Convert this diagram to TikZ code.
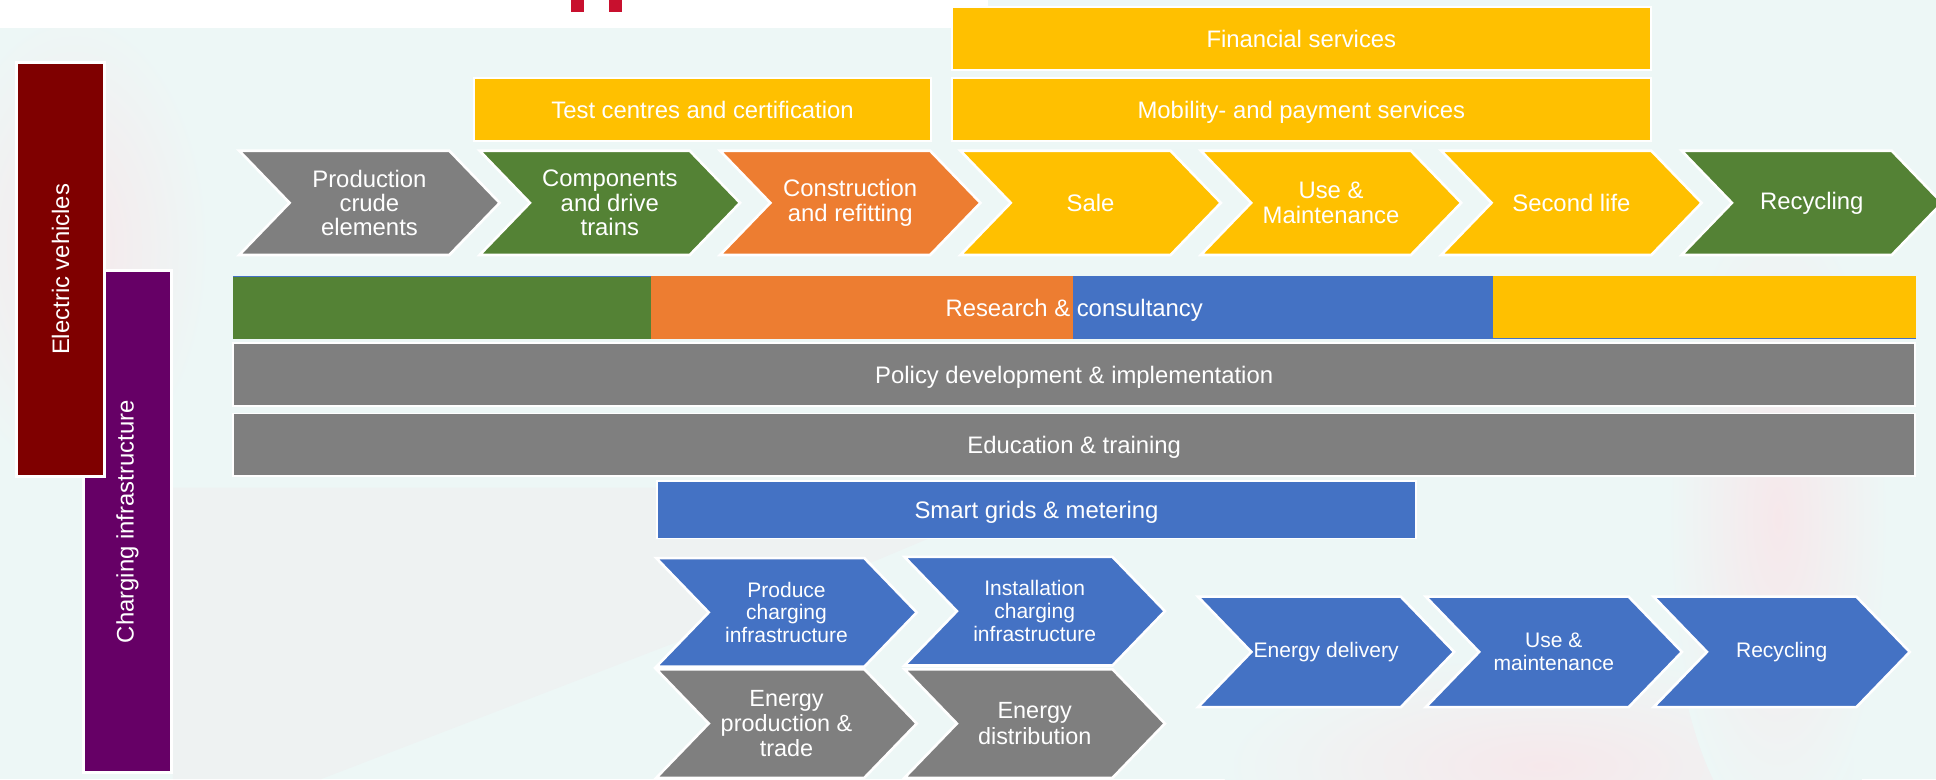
\documentclass[tikz,border=0pt]{standalone}
\usepackage{fontspec}
\setmainfont{Liberation Sans}
\usepackage{xcolor}
\usepackage{tikz}
\usetikzlibrary{shapes,positioning,calc}

\definecolor{evred}{HTML}{7F0000}
\definecolor{cipurple}{HTML}{660066}
\definecolor{vcgrey}{HTML}{7F7F7F}
\definecolor{vcgreen}{HTML}{548235}
\definecolor{vcorange}{HTML}{ED7D31}
\definecolor{vcyellow}{HTML}{FFC000}
\definecolor{vcblue}{HTML}{4472C4}
\definecolor{bgpale}{HTML}{EDF7F6}
\definecolor{bgpink}{HTML}{F6E8EB}
\definecolor{bggrey}{HTML}{EEF2F2}
\definecolor{logored}{HTML}{C8102E}

\newcommand\lblfont{\fontsize{11}{11.2}\selectfont}
\newcommand\smlfont{\fontsize{9.7}{10.5}\selectfont}
\newcommand\gryfont{\fontsize{10.8}{11.7}\selectfont}

\tikzset{
    chev/.style={signal, signal from=west, signal to=east, signal pointer angle=92,
        minimum width=4.22cm, minimum height=1.69cm, inner sep=0pt,
        draw=white, line width=1.2pt, text=white, align=center, font=\lblfont},
    bar/.style={rectangle, draw=white, line width=0.8pt, inner sep=0pt,
        minimum height=1.01cm, text=white, font=\lblfont,
        text height=2ex, text depth=0.45ex},
    sidebar/.style={rectangle, draw=white, line width=1.4pt, inner sep=0pt,
        text=white, font=\lblfont, rotate=90}
}

\begin{document}
\begin{tikzpicture}[x=0.02cm, y=-0.02cm]
    \useasboundingbox (0,0) rectangle (1568,631);
    \fill[bgpale] (0,0) rectangle (1568,631);
    % faint background photo
    \fill[bggrey] (140,395) -- (850,395) -- (600,500) -- (260,631) -- (140,631) -- cycle;
    \shade[inner color=bgpink, outer color=bgpale] (60,200) ellipse (110 and 190);
    \shade[inner color=bgpink, outer color=bgpale] (1250,620) ellipse (260 and 90);
    \shade[inner color=bgpink, outer color=bgpale] (1440,420) ellipse (90 and 260);

    % logo strip
    \fill[white] (0,0) rectangle (800,22.7);
    \fill[logored] (462.4,0) rectangle (472.6,9.5);
    \fill[logored] (493,0) rectangle (503.7,9.5);

    % side labels
    \node[sidebar, fill=cipurple, minimum width=8.14cm, minimum height=1.43cm] (charging) at (103.2,422.5) {Charging infrastructure};
    \node[sidebar, fill=evred, minimum width=6.71cm, minimum height=1.44cm] (vehicles) at (49,218.2) {Electric vehicles};

    % services above the chain
    \node[bar, fill=vcyellow, minimum width=11.32cm, minimum height=1.02cm] (financial) at (1054,31.1) {Financial services};
    \node[bar, fill=vcyellow, minimum width=11.32cm] (mobility) at (1054,88.7) {Mobility- and payment services};
    \node[bar, fill=vcyellow, minimum width=7.4cm] (testing) at (569,88.7) {Test centres and certification};

    % vehicle value chain
    \node[chev, fill=vcgrey] (crude) at (299.2,164.3) {Production\\crude\\elements};
    \node[chev, fill=vcgreen] (components) at (493.9,164.3) {Components\\and drive\\trains};
    \node[chev, fill=vcorange] (construction) at (688.6,164.3) {Construction\\and refitting};
    \node[chev, fill=vcyellow] (sale) at (883.3,164.3) {Sale};
    \node[chev, fill=vcyellow] (use) at (1078,164.3) {Use \&\\Maintenance};
    \node[chev, fill=vcyellow] (second) at (1272.7,164.3) {Second life};
    \node[chev, fill=vcgreen] (recycle) at (1467.4,164.3) {Recycling};

    % cross-cutting bars
    \fill[vcblue] (188.5,223.5) rectangle (1551.6,274.6);
    \fill[vcgreen] (188.5,224.3) rectangle (527,274.6);
    \fill[vcorange] (527,223.5) rectangle (868.7,274.6);
    \fill[vcyellow] (1209,223.5) rectangle (1551.6,273.8);
    \node[text=white, font=\lblfont, text height=2ex, text depth=0.45ex] (research) at (870,249) {Research \& consultancy};
    \node[bar, fill=vcgrey, minimum width=27.25cm] (policy) at (870,303.3) {Policy development \& implementation};
    \node[bar, fill=vcgrey, minimum width=27.25cm] (education) at (870,360.2) {Education \& training};
    \node[bar, fill=vcblue, minimum width=12.3cm, minimum height=0.934cm] (smart) at (839.5,412.7) {Smart grids \& metering};

    % charging value chain
    \node[chev, fill=vcblue, font=\smlfont, minimum height=1.76cm] (produce) at (637,496) {Produce\\charging\\infrastructure};
    \node[chev, fill=vcblue, font=\smlfont, minimum height=1.76cm] (install) at (838,495) {Installation\\charging\\infrastructure};
    \node[chev, fill=vcgrey, font=\gryfont, minimum height=1.76cm] (energyprod) at (637,586) {Energy\\production \&\\trade};
    \node[chev, fill=vcgrey, font=\gryfont, minimum height=1.76cm] (distribution) at (838,586) {Energy\\distribution};
    \node[chev, fill=vcblue, font=\smlfont, minimum height=1.79cm, minimum width=4.15cm] (delivery) at (1074,528) {Energy delivery};
    \node[chev, fill=vcblue, font=\smlfont, minimum height=1.79cm, minimum width=4.15cm] (usemaint) at (1258.5,528) {Use \&\\maintenance};
    \node[chev, fill=vcblue, font=\smlfont, minimum height=1.79cm, minimum width=4.15cm] (recyclecp) at (1443,528) {Recycling};
\end{tikzpicture}
\end{document}
